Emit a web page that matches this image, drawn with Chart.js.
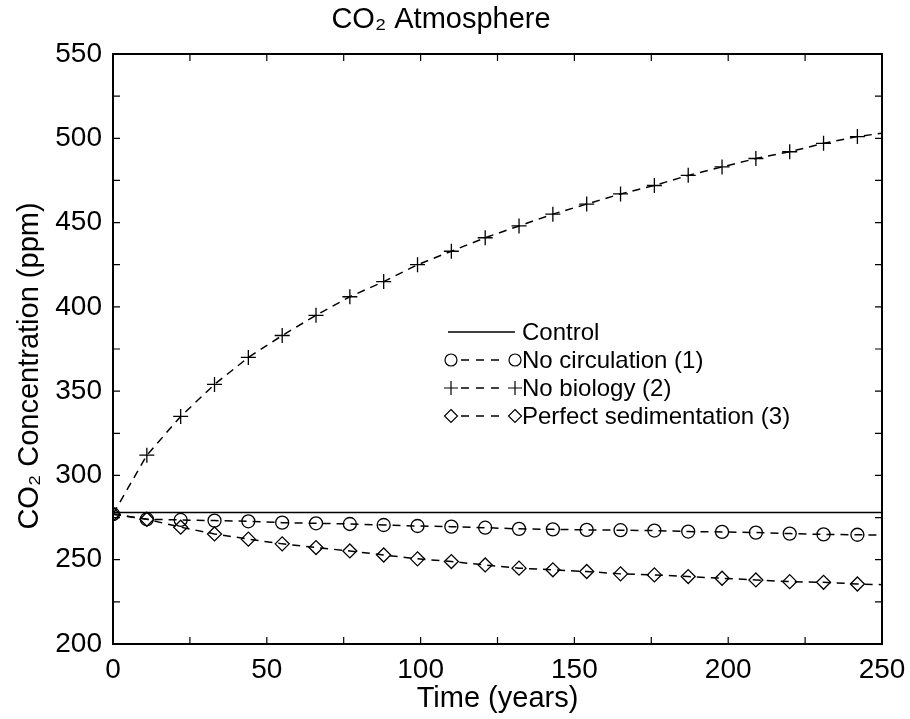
<!DOCTYPE html>
<html>
<head>
<meta charset="utf-8">
<title>CO2 Atmosphere</title>
<script src="https://cdn.jsdelivr.net/npm/chart.js@4.4.1/dist/chart.umd.min.js"></script>
<style>
  html, body { margin: 0; padding: 0; background: #fff; }
  canvas { display: block; }
</style>
</head>
<body>
<canvas id="co2Chart" width="910" height="719"></canvas>
<script>
// model output, one marker every ~11 years (last point has no marker)
const years = [0, 11, 22, 33, 44, 55, 66, 77, 88, 99, 110, 121, 132, 143, 154, 165, 176, 187, 198, 209, 220, 231, 242, 250];
const controlYears = [0, 250];
const control = [278, 278];
const noCirculation = [277, 274, 273.6, 273.2, 272.8, 272, 271.6, 271.2, 270.6, 270, 269.6, 269, 268.3, 268, 267.7, 267.5, 267.3, 266.7, 266.5, 266.1, 265.5, 265, 264.8, 264.6];
const noBiology = [277, 312, 335, 354, 370, 383, 395, 406, 415, 425, 433, 441, 448, 455, 461, 467, 472, 478, 483, 488, 492, 497, 501, 503];
const perfectSedimentation = [277, 274, 269.3, 265.3, 262.2, 259.4, 257.2, 255.2, 252.8, 250.5, 248.9, 246.9, 245, 244, 243, 241.6, 241, 240, 239, 238, 237, 236.6, 235.6, 235.2];

const xTickStep = 50, yTickStep = 50, minorStep = 25;

const FONT = "'Liberation Sans', Arial, Helvetica, sans-serif";
const INK = "#000";

const toPoints = (xs, ys) => xs.map((x, i) => ({ x: x, y: ys[i] }));
const lastNoMarker = (r) => (ctx) => (ctx.dataIndex === years.length - 1 ? 0 : r);

const seriesStyle = [
  { label: "Control", dash: [], point: null },
  { label: "No circulation (1)", dash: [8, 6], point: "circle", r: 6 },
  { label: "No biology (2)", dash: [8, 6], point: "cross", r: 7 },
  { label: "Perfect sedimentation (3)", dash: [8, 6], point: "rectRot", r: 6.5 },
];

function drawMarker(ctx, style, x, y, r) {
  ctx.beginPath();
  if (style === "circle") {
    ctx.arc(x, y, r, 0, Math.PI * 2);
  } else if (style === "cross") {
    ctx.moveTo(x - r, y); ctx.lineTo(x + r, y);
    ctx.moveTo(x, y - r); ctx.lineTo(x, y + r);
  } else if (style === "rectRot") {
    ctx.moveTo(x, y - r); ctx.lineTo(x + r, y);
    ctx.lineTo(x, y + r); ctx.lineTo(x - r, y); ctx.closePath();
  }
  ctx.stroke();
}

// box round the plot with inward ticks on all four sides
const framePlugin = {
  id: "frame",
  afterDatasetsDraw(chart) {
    const { ctx, chartArea: a, scales } = chart;
    const len = 7;
    ctx.save();
    ctx.strokeStyle = INK;
    ctx.setLineDash([]);
    ctx.lineWidth = 1.2;
    ctx.beginPath();
    for (let v = scales.x.min; v <= scales.x.max; v += minorStep) {
      const px = scales.x.getPixelForValue(v);
      ctx.moveTo(px, a.bottom); ctx.lineTo(px, a.bottom - len);
      ctx.moveTo(px, a.top); ctx.lineTo(px, a.top + len);
    }
    for (let v = scales.y.min; v <= scales.y.max; v += minorStep) {
      const py = scales.y.getPixelForValue(v);
      ctx.moveTo(a.left, py); ctx.lineTo(a.left + len, py);
      ctx.moveTo(a.right, py); ctx.lineTo(a.right - len, py);
    }
    ctx.stroke();
    ctx.lineWidth = 2;
    ctx.strokeRect(a.left, a.top, a.right - a.left, a.bottom - a.top);
    ctx.restore();
  },
};

// y title sits a bit below the middle of the axis in the original
const yTitlePlugin = {
  id: "yTitle",
  afterDraw(chart) {
    const { ctx } = chart;
    ctx.save();
    ctx.translate(30, 366);
    ctx.rotate(-Math.PI / 2);
    ctx.fillStyle = INK;
    ctx.font = "29px " + FONT;
    ctx.textAlign = "center";
    ctx.textBaseline = "middle";
    ctx.fillText("CO\u2082 Concentration (ppm)", 0, 0);
    ctx.restore();
  },
};

// matlab-like legend: line sample with a marker at both ends
const legendPlugin = {
  id: "lineLegend",
  afterDraw(chart) {
    const { ctx } = chart;
    const x0 = 451, x1 = 515, top = 332, row = 28;
    ctx.save();
    ctx.font = "24px " + FONT;
    ctx.fillStyle = INK;
    ctx.strokeStyle = INK;
    ctx.textBaseline = "middle";
    seriesStyle.forEach((s, i) => {
      const y = top + i * row;
      ctx.lineWidth = 1.4;
      const inset = s.point ? 10 : 0;
      ctx.setLineDash(s.point ? [8, 7] : []);
      ctx.beginPath();
      ctx.moveTo(s.point ? x0 + inset : x0 - 3, y);
      ctx.lineTo(x1 - inset, y);
      ctx.stroke();
      ctx.setLineDash([]);
      if (s.point) {
        ctx.lineWidth = 1.2;
        drawMarker(ctx, s.point, x0, y, s.r);
        drawMarker(ctx, s.point, x1, y, s.r);
      }
      ctx.fillText(s.label, 522, y + 1);
    });
    ctx.restore();
  },
};

const dashed = (label, ys, style, r) => ({
  label: label,
  data: toPoints(years, ys),
  borderColor: INK,
  borderWidth: 1.5,
  borderDash: [8, 6],
  pointStyle: style,
  pointRadius: lastNoMarker(r),
  pointHoverRadius: 0,
  pointBorderColor: INK,
  pointBorderWidth: 1.3,
  pointBackgroundColor: "rgba(0,0,0,0)",
  tension: 0,
  fill: false,
});

const ctx = document.getElementById("co2Chart").getContext("2d");
const co2Chart = new Chart(ctx, {
  type: "line",
  data: {
    datasets: [
      {
        label: "Control",
        data: toPoints(controlYears, control),
        borderColor: INK,
        borderWidth: 1.6,
        pointRadius: 0,
        fill: false,
      },
      dashed("No circulation (1)", noCirculation, "circle", 6.5),
      dashed("No biology (2)", noBiology, "cross", 7.5),
      dashed("Perfect sedimentation (3)", perfectSedimentation, "rectRot", 7),
    ],
  },
  options: {
    responsive: false,
    animation: false,
    events: [],
    layout: { padding: { top: 0, right: 28, bottom: 0, left: 0 } },
    scales: {
      x: {
        type: "linear",
        min: 0,
        max: 250,
        grid: { display: false, drawTicks: false },
        border: { display: false },
        ticks: { stepSize: xTickStep, color: INK, padding: 9, font: { family: FONT, size: 28 } },
        title: {
          display: true,
          text: "Time (years)",
          color: INK,
          font: { family: FONT, size: 29 },
          padding: { top: 0, bottom: 3 },
        },
        afterFit: (s) => { s.height = 75; s.paddingLeft = 0; s.paddingRight = 0; },
      },
      y: {
        min: 200,
        max: 550,
        grid: { display: false, drawTicks: false },
        border: { display: false },
        ticks: { stepSize: yTickStep, color: INK, padding: 11, font: { family: FONT, size: 28 } },
        afterFit: (s) => { s.width = 113; },
      },
    },
    plugins: {
      legend: { display: false },
      tooltip: { enabled: false },
      title: {
        display: true,
        text: "CO\u2082 Atmosphere",
        color: INK,
        font: { family: FONT, size: 29, weight: "normal" },
        padding: { top: 3, bottom: 16.2 },
      },
    },
  },
  plugins: [framePlugin, yTitlePlugin, legendPlugin],
});
</script>
</body>
</html>
